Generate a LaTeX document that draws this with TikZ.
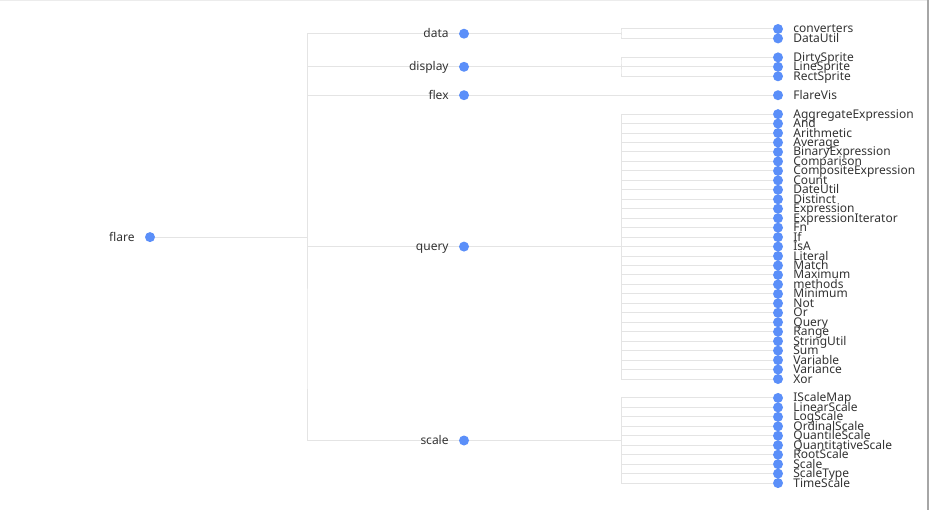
\documentclass[tikz,border=0pt]{standalone}
\usepackage{fontspec}
\setmainfont{Noto Sans}
\usetikzlibrary{calc,backgrounds}
\definecolor{dotblue}{HTML}{5B8FF9}
\definecolor{edgegray}{HTML}{E4E4E4}
\definecolor{txtgray}{HTML}{333333}

\begin{document}
\begin{tikzpicture}[x=1pt, y=-1pt,
    dot/.style = {circle, fill = dotblue, inner sep = 0pt, minimum size = 10pt},
    lbl/.style = {text = txtgray, inner sep = 0pt, font = \fontsize{12}{12}\selectfont, text height = 10pt, text depth = 2pt},
    edge/.style = {draw = edgegray, line width = 1pt},
    label distance = 10pt]
        \useasboundingbox (0,0) rectangle (929,513);
        \draw [gray!15] (0,0.5) -- (928,0.5);
        \draw [gray!70, line width = 1.2pt] (928,0) -- (928,510);

        \node [dot, label={[lbl]left:flare}] (flare) at (150, 237.1) {};

        \foreach \grp/\y in {data/33.7, display/66.8, flex/95.2, query/246.6, scale/440.5}
                 {
                   \node [dot, label={[lbl]left:\grp}] (\grp) at (464, \y) {};
                   \begin{pgfonlayer}{background}
                     \draw [edge] (flare) -| ($ (flare)!.5!(\grp) $) |- (\grp);
                   \end{pgfonlayer}
                 }

        \foreach \grp/\start/\kids in {data/0/{converters,DataUtil},
                 display/3/{DirtySprite,LineSprite,RectSprite},
                 flex/7/{FlareVis},
                 query/9/{AggregateExpression,And,Arithmetic,Average,BinaryExpression,Comparison,CompositeExpression,Count,DateUtil,Distinct,Expression,ExpressionIterator,Fn,If,IsA,Literal,Match,Maximum,methods,Minimum,Not,Or,Query,Range,StringUtil,Sum,Variable,Variance,Xor},
                 scale/39/{IScaleMap,LinearScale,LogScale,OrdinalScale,QuantileScale,QuantitativeScale,RootScale,Scale,ScaleType,TimeScale}}
                 {
                   \foreach \c [count = \i from 0] in \kids
                            {
                              \node [dot, label={[lbl]right:\c}] (\c) at (778, {29 + 9.46*(\start + \i)}) {};
                              \begin{pgfonlayer}{background}
                                \draw [edge] (\grp) -| ($ (\grp)!.5!(\c) $) |- (\c);
                              \end{pgfonlayer}
                            }
                 }
      \end{tikzpicture}
\end{document}
